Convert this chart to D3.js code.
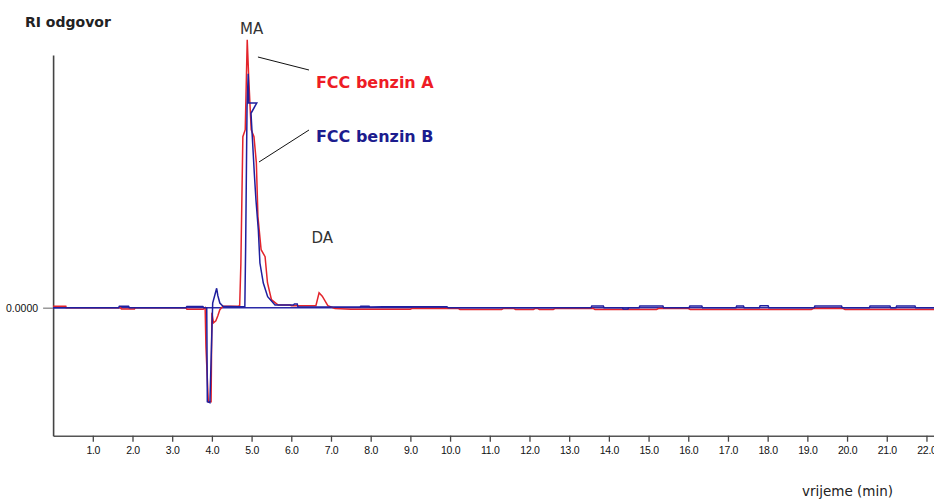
<!DOCTYPE html>
<html>
<head>
    <title>RI kromatogram</title>
    <style>
        body { margin: 0; background: #fff; }
        svg { display: block; }
    </style>
    <script src="https://d3js.org/d3.v7.min.js"></script>
</head>
<body>
</body>

<script type="text/javascript">

    // FCC benzin A (red) - time in min, RI response
    var timeA = [0, 0.32, 0.33, 1.70, 1.72, 2.05, 2.07, 3.35, 3.37, 3.78, 3.83, 3.85, 3.91, 3.98, 4.00, 4.04, 4.10, 4.15, 4.20, 4.28,
        4.65, 4.70, 4.73, 4.78, 4.84, 4.89, 4.93, 4.99, 5.06, 5.12, 5.16, 5.24, 5.34, 5.40, 5.50, 5.67, 5.97, 6.00,
        6.62, 6.70, 6.78, 6.92, 7.10, 7.50, 9.00, 9.05, 10.20, 10.25, 11.30, 11.35, 11.60, 11.65, 12.10, 12.15, 12.20, 12.25,
        12.60, 12.65, 13.60, 13.65, 15.20, 15.25, 16.00, 16.05, 19.10, 19.15, 19.90, 19.95, 22.19];
    var respA = [1.5, 1.5, 0, 0, -1.2, -1.2, 0, 0, -1.5, -1.5, 0, -39, -94, -94, -5, -15, -13, -8, -2, 1.5,
        1.5, 2, 44, 171, 178, 268, 228, 178, 171, 145, 91, 58, 51, 25, 8, 2.7, 2.7, 2,
        2, 15, 11.5, 2, -0.7, -1.5, -1.5, -0.7, -0.7, -1.8, -1.8, -0.7, -0.7, -1.7, -1.7, -0.7, -0.7, -1.7,
        -1.7, -0.7, -0.7, -1.7, -1.7, -0.8, -0.8, -1.7, -1.7, -0.8, -0.8, -1.7, -1.7];

    // FCC benzin B (blue)
    var timeB = [0, 1.65, 1.67, 1.90, 1.92, 3.35, 3.37, 3.77, 3.80, 3.87, 3.885, 3.95, 4.02, 4.12, 4.15, 4.20, 4.28, 4.66,
        4.83, 4.85, 4.885, 4.915, 4.93, 4.884, 5.13, 4.985, 5.018, 5.068, 5.11, 5.17, 5.21, 5.295, 5.405, 5.59, 5.84,
        6.05, 6.08, 6.15, 6.17, 7.73, 7.75, 7.96, 7.98, 8.31, 9.92, 9.95, 13.55, 13.57, 13.86, 13.88, 14.34, 14.36, 14.48, 14.50,
        14.76, 14.78, 15.36, 15.38, 16.02, 16.04, 16.34, 16.36, 17.20, 17.22, 17.39, 17.41, 17.79, 17.81, 18.01, 18.03,
        19.17, 19.19, 19.86, 19.88, 20.56, 20.58, 21.08, 21.10, 21.23, 21.25, 21.71, 21.73, 22.19];
    var respB = [0, 0, 1.5, 1.5, 0, 0, 1.3, 1.3, 0, 0, -94, -95, 4.7, 19.4, 12, 4.7, 1.5, 1,
        1, 60, 200, 234, 205, 204.7, 204.7, 194.4, 171, 134.7, 107.7, 77.7, 44.7, 24.7, 11, 2.7, 2.7,
        2.7, 3.7, 3.7, 0.6, 0.6, 1.5, 1.5, 0.6, 1, 1, 0, 0, 1.8, 1.8, 0, 0, -1.2, -1.2, 0,
        0, 1.8, 1.8, 0, 0, 1.8, 1.8, 0, 0, 1.8, 1.8, 0, 0, 2, 2, 0,
        0, 1.8, 1.8, 0, 0, 1.8, 1.8, 0, 0, 1.8, 1.8, 0, 0];

    var xTicks = d3.range(1, 23);

    // peak labels and series labels (time, response)
    var labels = [
        {text: 'MA', t: 4.71, v: 273.4, color: '#333', size: 15, weight: 'normal'},
        {text: 'DA', t: 6.51, v: 64.4, color: '#333', size: 15, weight: 'normal'},
        {text: 'FCC benzin A', t: 6.62, v: 220, color: '#ee1c25', size: 16, weight: 'bold'},
        {text: 'FCC benzin B', t: 6.62, v: 166, color: '#1c1c8e', size: 16, weight: 'bold'}
    ];
    var leaders = [
        {t1: 5.16, v1: 250.7, t2: 6.446, v2: 237.7},
        {t1: 5.187, v1: 145.7, t2: 6.446, v2: 177.7}
    ];

    var seriesA = timeA.map(function(t, i) { return [t, respA[i]]; });
    var seriesB = timeB.map(function(t, i) { return [t, respB[i]]; });

    var svg = d3.select('body')
                    .append('svg')
                    .attr('width', 934)
                    .attr('height', 500)
            ;

    var x = d3.scaleLinear().domain([0, 22.19]).range([53.1, 934]);
    var y = d3.scaleLinear().domain([-128, 252.7]).range([435.7, 55]);

    var line = d3.line()
            .x(function(d) { return x(d[0]); })
            .y(function(d) { return y(d[1]); });

    // axes
    var xAxis = svg.append('g')
            .attr('transform', 'translate(0,' + y(-128) + ')')
            .call(d3.axisBottom(x).tickValues(xTicks).tickFormat(d3.format('.1f'))
                    .tickSize(6).tickSizeOuter(0).tickPadding(5));
    xAxis.select('.domain').attr('stroke', '#555').attr('stroke-width', 1.6);
    xAxis.selectAll('.tick line').attr('stroke', '#444').attr('stroke-width', 1.3);
    xAxis.selectAll('.tick text')
            .attr('fill', '#111')
            .style('font-family', 'Liberation Sans, Arial, sans-serif')
            .style('font-size', '10.5px')
            .attr('letter-spacing', '-0.3');

    var yAxis = svg.append('g')
            .attr('transform', 'translate(' + x(0) + ',0)')
            .call(d3.axisLeft(y).tickValues([0]).tickFormat(d3.format('.4f'))
                    .tickSize(10).tickSizeOuter(0).tickPadding(5));
    yAxis.select('.domain').attr('stroke', '#444').attr('stroke-width', 1.6);
    yAxis.selectAll('.tick line').attr('stroke', '#888').attr('stroke-width', 1.3);
    yAxis.selectAll('.tick text')
            .attr('fill', '#111')
            .style('font-family', 'Liberation Sans, Arial, sans-serif')
            .style('font-size', '10.5px');

    // baseline
    svg.append('line')
            .attr('x1', x(0)).attr('x2', x(22.19))
            .attr('y1', y(0)).attr('y2', y(0))
            .attr('stroke', '#2a2aa8')
            .attr('stroke-width', 1.4);

    svg.append('path')
            .datum(seriesA)
            .attr('d', line)
            .attr('fill', 'none')
            .attr('stroke', '#e3242b')
            .attr('stroke-width', 1.5);

    svg.append('path')
            .datum(seriesB)
            .attr('d', line)
            .attr('fill', 'none')
            .attr('stroke', '#1f1f9e')
            .attr('stroke-width', 1.5);

    // leader lines
    svg.selectAll('.leader')
            .data(leaders)
            .enter()
            .append('line')
            .attr('class', 'leader')
            .attr('x1', function(d) { return x(d.t1); })
            .attr('y1', function(d) { return y(d.v1); })
            .attr('x2', function(d) { return x(d.t2); })
            .attr('y2', function(d) { return y(d.v2); })
            .attr('stroke', '#111')
            .attr('stroke-width', 1);

    svg.selectAll('.lbl')
            .data(labels)
            .enter()
            .append('text')
            .attr('class', 'lbl')
            .attr('x', function(d) { return x(d.t); })
            .attr('y', function(d) { return y(d.v); })
            .attr('fill', function(d) { return d.color; })
            .style('font-family', 'DejaVu Sans, Verdana, sans-serif')
            .style('font-size', function(d) { return d.size + 'px'; })
            .style('font-weight', function(d) { return d.weight; })
            .text(function(d) { return d.text; });

    // axis titles
    svg.append('text')
            .attr('x', 25).attr('y', 27)
            .attr('fill', '#222')
            .style('font-family', 'DejaVu Sans, Verdana, sans-serif')
            .style('font-size', '14px')
            .style('font-weight', 'bold')
            .text('RI odgovor');

    svg.append('text')
            .attr('x', 802).attr('y', 496)
            .attr('fill', '#222')
            .style('font-family', 'DejaVu Sans, Verdana, sans-serif')
            .style('font-size', '13.5px')
            .text('vrijeme (min)');

</script>
</html>
